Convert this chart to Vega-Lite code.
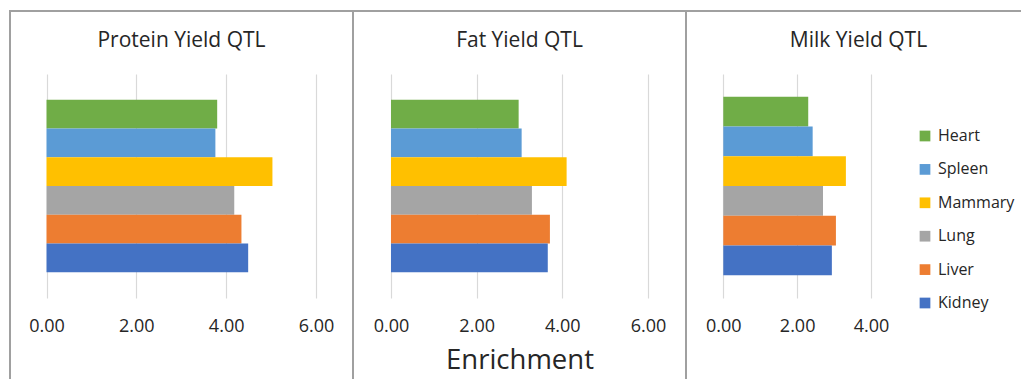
{
  "$schema": "https://vega.github.io/schema/vega-lite/v6.json",
  "padding": {"left": 9, "top": 10, "right": 0, "bottom": 0},
  "background": "white",
  "data": {"values": [
    {"panel": "Protein", "tissue": "Heart", "value": 3.80},
    {"panel": "Protein", "tissue": "Spleen", "value": 3.76},
    {"panel": "Protein", "tissue": "Mammary", "value": 5.03},
    {"panel": "Protein", "tissue": "Lung", "value": 4.18},
    {"panel": "Protein", "tissue": "Liver", "value": 4.34},
    {"panel": "Protein", "tissue": "Kidney", "value": 4.49},
    {"panel": "Fat", "tissue": "Heart", "value": 2.98},
    {"panel": "Fat", "tissue": "Spleen", "value": 3.05},
    {"panel": "Fat", "tissue": "Mammary", "value": 4.10},
    {"panel": "Fat", "tissue": "Lung", "value": 3.29},
    {"panel": "Fat", "tissue": "Liver", "value": 3.71},
    {"panel": "Fat", "tissue": "Kidney", "value": 3.66},
    {"panel": "Milk", "tissue": "Heart", "value": 2.30},
    {"panel": "Milk", "tissue": "Spleen", "value": 2.42},
    {"panel": "Milk", "tissue": "Mammary", "value": 3.32},
    {"panel": "Milk", "tissue": "Lung", "value": 2.70},
    {"panel": "Milk", "tissue": "Liver", "value": 3.05},
    {"panel": "Milk", "tissue": "Kidney", "value": 2.94}
  ]},
  "spacing": 0,
  "bounds": "flush",
  "resolve": {"scale": {"color": "independent", "x": "independent", "y": "independent"}, "legend": {"color": "independent"}},
  "hconcat": [
    {
      "width": 343, "height": 380,
      "title": {"text": "Protein Yield QTL"},
      "transform": [{"filter": "datum.panel === 'Protein'"}],
      "mark": {"type": "bar"},
      "encoding": {
        "y": {"field": "tissue", "type": "nominal", "sort": ["Kidney", "Liver", "Lung", "Mammary", "Spleen", "Heart"],
              "scale": {"type": "band", "range": [287, 63], "paddingInner": 0, "paddingOuter": 0.9}, "axis": null},
        "x": {"field": "value", "type": "quantitative",
              "scale": {"domain": [0, 6], "range": [36.5, 306], "nice": false},
              "axis": {"values": [0, 2, 4, 6], "title": null}},
        "color": {"field": "tissue", "type": "nominal",
                  "scale": {"domain": ["Heart", "Spleen", "Mammary", "Lung", "Liver", "Kidney"], "range": ["#70AD47", "#5B9BD5", "#FFC000", "#A5A5A5", "#ED7D31", "#4472C4"]},
                  "legend": null}
      }
    },
    {
      "width": 333, "height": 380,
      "title": {"text": "Fat Yield QTL"},
      "transform": [{"filter": "datum.panel === 'Fat'"}],
      "mark": {"type": "bar"},
      "encoding": {
        "y": {"field": "tissue", "type": "nominal", "sort": ["Kidney", "Liver", "Lung", "Mammary", "Spleen", "Heart"],
              "scale": {"type": "band", "range": [287, 63], "paddingInner": 0, "paddingOuter": 0.9}, "axis": null},
        "x": {"field": "value", "type": "quantitative",
              "scale": {"domain": [0, 6], "range": [38, 295], "nice": false},
              "axis": {"values": [0, 2, 4, 6], "title": "Enrichment", "titleY": 7, "titleBaseline": "alphabetic"}},
        "color": {"field": "tissue", "type": "nominal",
                  "scale": {"domain": ["Heart", "Spleen", "Mammary", "Lung", "Liver", "Kidney"], "range": ["#70AD47", "#5B9BD5", "#FFC000", "#A5A5A5", "#ED7D31", "#4472C4"]},
                  "legend": null}
      }
    },
    {
      "width": 345, "height": 380,
      "title": {"text": "Milk Yield QTL"},
      "transform": [{"filter": "datum.panel === 'Milk'"}],
      "mark": {"type": "bar"},
      "encoding": {
        "y": {"field": "tissue", "type": "nominal", "sort": ["Kidney", "Liver", "Lung", "Mammary", "Spleen", "Heart"],
              "scale": {"type": "band", "range": [287, 63], "paddingInner": 0, "paddingOuter": 0.76}, "axis": null},
        "x": {"field": "value", "type": "quantitative",
              "scale": {"domain": [0, 4], "range": [37.3, 185], "nice": false},
              "axis": {"values": [0, 2, 4], "title": null}},
        "color": {"field": "tissue", "type": "nominal",
                  "scale": {"domain": ["Heart", "Spleen", "Mammary", "Lung", "Liver", "Kidney"], "range": ["#70AD47", "#5B9BD5", "#FFC000", "#A5A5A5", "#ED7D31", "#4472C4"]},
                  "legend": {"title": null, "orient": "none", "legendX": 231, "legendY": 117, "padding": 0,
                             "symbolType": "square", "symbolSize": 115, "symbolStrokeWidth": 0, "symbolOpacity": 1,
                             "labelFontSize": 16, "labelFont": "Open Sans", "labelColor": "#262626", "labelOffset": 5,
                             "rowPadding": 17.4}}
      }
    }
  ],
  "config": {
    "view": {"stroke": "#a0a0a0", "strokeWidth": 2},
    "title": {"font": "Open Sans", "fontSize": 21, "fontWeight": "normal", "color": "#262626", "anchor": "middle", "frame": "group", "offset": -40, "baseline": "bottom"},
    "axis": {"labelFont": "Open Sans", "labelFontSize": 18, "labelColor": "#262626", "domain": false, "ticks": false,
             "grid": true, "gridColor": "#d9d9d9", "gridWidth": 1.2, "offset": -30, "labelPadding": -44,
             "labelFlush": false, "labelOverlap": false, "labelBound": false,
             "format": ".2f", "titleFont": "Open Sans", "titleFontSize": 27.5, "titleFontWeight": "normal", "titleColor": "#262626"}
  }
}
